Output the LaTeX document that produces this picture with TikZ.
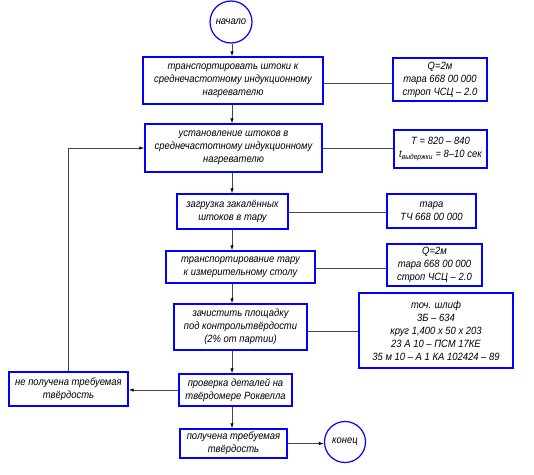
\documentclass[tikz,border=0pt]{standalone}
\usepackage{fontspec}
\setmainfont{Liberation Sans}[FakeStretch=0.9]
\usetikzlibrary{arrows.meta}
\definecolor{boxblue}{RGB}{0,0,255}
\definecolor{linegray}{RGB}{70,70,70}
\tikzset{
  blk/.style={draw=boxblue, line width=1.4pt, rectangle, inner sep=0pt, align=center,
    font=\fontsize{10.5}{13}\selectfont\itshape},
  term/.style={draw=boxblue, line width=1.2pt, circle, inner sep=0pt, minimum size=#1,
    font=\fontsize{10.5}{12}\selectfont\itshape},
  conn/.style={draw=linegray, line width=0.9pt},
  arr/.style={conn, -{Latex[length=5pt,width=3.5pt,color=black]}}
}
\begin{document}
\begin{tikzpicture}[x=1pt,y=-1pt]
\useasboundingbox (0,0) rectangle (534,474);
% terminals
\node[term=42pt] (start) at (231,22) {начало};
\node[term=41pt] (end) at (345,442) {конец};
% main column
\node[blk, minimum width=180pt, minimum height=47pt] (b1) at (233,80.5)
  {транспортировать штоки к\\среднечастотному индукционному\\нагревателю};
\node[blk, minimum width=177pt, minimum height=48pt] (b2) at (233.5,148)
  {установление штоков в\\среднечастотному индукционному\\нагревателю};
\node[blk, minimum width=111pt, minimum height=35pt] (b3) at (232.5,211.5)
  {загрузка закалённых\\штоков в тару};
\node[blk, minimum width=149pt, minimum height=32pt] (b4) at (240.5,267)
  {транспортирование тару\\к измерительному столу};
\node[blk, minimum width=133pt, minimum height=46pt] (b5) at (240.5,327)
  {зачистить площадку\\под контрольтвёрдости\\(2\% от партии)};
\node[blk, minimum width=113pt, minimum height=32pt] (b6) at (235.5,390)
  {проверка деталей на\\твёрдомере Роквелла};
\node[blk, minimum width=107pt, minimum height=29pt] (b7) at (233.5,443.5)
  {получена требуемая\\твёрдость};
\node[blk, minimum width=119pt, minimum height=34pt] (nb) at (68.5,389)
  {не получена требуемая\\твёрдость};
% right column
\node[blk, minimum width=94pt, minimum height=43pt] (r1) at (440,79.5)
  {Q=2м\\тара 668 00 000\\строп ЧСЦ – 2.0};
\node[blk, minimum width=93pt, minimum height=38pt] (r2) at (440.5,149)
  {Т = 820 – 840\\t\textsubscript{выдержки} = 8–10 сек};
\node[blk, minimum width=89pt, minimum height=34pt] (r3) at (431.5,211)
  {тара\\ТЧ 668 00 000};
\node[blk, minimum width=95pt, minimum height=42pt] (r4) at (434.5,265)
  {Q=2м\\тара 668 00 000\\строп ЧСЦ – 2.0};
\node[blk, minimum width=154pt, minimum height=75pt] (r5) at (436,330.5)
  {точ. шлиф\\3Б – 634\\круг 1,400 х 50 х 203\\23 А 10 – ПСМ 17КЕ\\35 м 10 – А 1 КА 102424 – 89};
% spine
\coordinate (sp) at (232,0);
% vertical arrows
\draw[arr] (start.south -| sp) -- (b1.north -| sp);
\draw[arr] (b1.south -| sp) -- (b2.north -| sp);
\draw[arr] (b2.south -| sp) -- (b3.north -| sp);
\draw[arr] (b3.south -| sp) -- (b4.north -| sp);
\draw[arr] (b4.south -| sp) -- (b5.north -| sp);
\draw[arr] (b5.south -| sp) -- (b6.north -| sp);
\draw[arr] (b6.south -| sp) -- (b7.north -| sp);
\draw[arr] (b7.east) -- (b7.east -| end.west);
% feedback loop
\draw[arr] (b6.west) -- (b6.west -| nb.east);
\draw[arr] (nb.north) |- (b2.west);
% side connections
\coordinate (h1) at (0,83);
\coordinate (h2) at (0,148);
\coordinate (h3) at (0,212);
\coordinate (h4) at (0,268);
\coordinate (h5) at (0,331);
\draw[conn] (b1.east |- h1) -- (r1.west |- h1);
\draw[conn] (b2.east |- h2) -- (r2.west |- h2);
\draw[conn] (b3.east |- h3) -- (r3.west |- h3);
\draw[conn] (b4.east |- h4) -- (r4.west |- h4);
\draw[conn] (b5.east |- h5) -- (r5.west |- h5);
\end{tikzpicture}
\end{document}
